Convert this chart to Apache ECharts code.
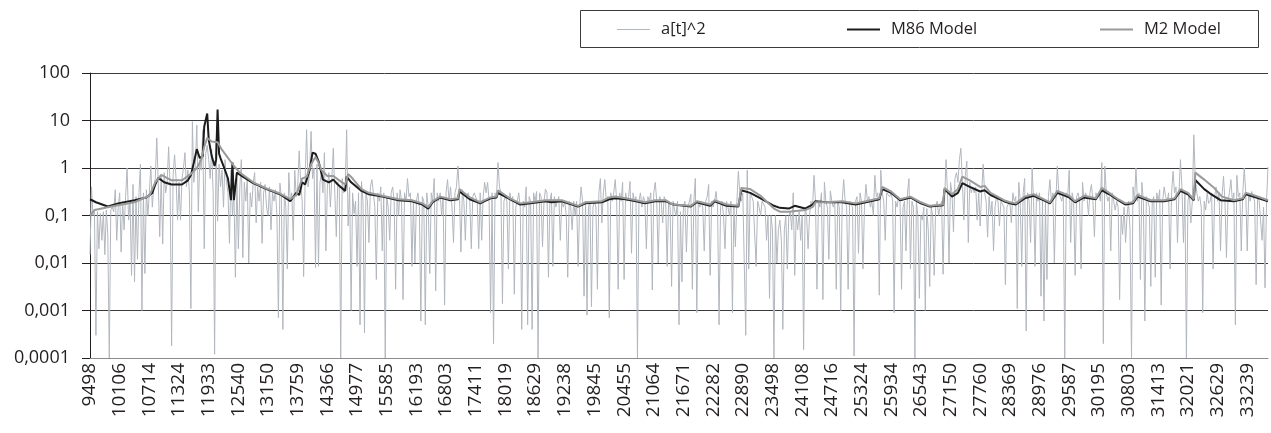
<!DOCTYPE html>
<html><head><meta charset="utf-8">
<script src="https://cdn.jsdelivr.net/npm/echarts@6/dist/echarts.min.js"></script>
<style>html,body{margin:0;padding:0;background:#fff}#c{width:1271px;height:433px}</style>
</head><body><div id="c"></div>
<script>
const tickLabels = ['9498','10106','10714','11324','11933','12540','13150','13759','14366','14977','15585','16193','16803','17411','18019','18629','19238','19845','20455','21064','21671','22282','22890','23498','24108','24716','25324','25934','26543','27150','27760','28369','28976','29587','30195','30803','31413','32021','32629','33239'];
const yTickLabels = ['0,0001','0,001','0,01','0,1','1','10','100'];
const seriesNames = ['a[t]^2','M86 Model','M2 Model'];

// a[t]^2, monthly values (20 per x label)
const aSquared = [
0.015,0.4,0.1,0.12,0.0003,0.12,0.02,0.11,0.03,0.12,0.015,0.13,0.04,0.0001,0.13,0.15,0.12,0.35,0.03,0.15,
0.3,0.017,0.2,0.05,0.25,1.0,0.08,0.2,0.0055,0.45,0.004,0.25,0.012,0.3,1.2,0.001,0.3,0.006,0.35,0.1,
0.3,1.1,0.15,0.4,0.6,4.3,0.5,0.036,0.7,0.025,0.8,0.3,0.5,2.8,0.4,0.00018,0.7,1.9,0.6,0.08,
0.5,0.08,0.6,1.0,2.1,0.4,0.9,0.3,0.0011,9.5,0.5,1.2,8,0.12,1.5,0.9,6.4,0.02,2,3,
1.5,0.6,2.5,0.3,0.00012,4,0.076,1.2,0.4,0.9,0.15,1.5,0.5,0.3,0.026,0.9,0.1,0.3,0.005,0.6,
0.02,0.4,1.5,0.013,0.5,0.2,0.6,0.01,0.3,0.15,0.5,0.8,0.07,0.4,0.2,0.5,0.026,0.3,0.45,0.15,
0.1,0.4,0.05,0.3,0.2,0.35,0.1,0.0007,0.48,0.25,0.0004,0.3,0.15,0.0075,0.8,0.2,0.3,0.03,0.9,0.25,
0.4,2.3,0.5,0.2,0.0052,0.6,6.4,0.4,0.8,5.9,0.6,1.0,0.008,1.2,0.0085,0.5,0.8,0.3,2.1,0.018,
0.4,0.8,0.15,0.6,2.6,0.3,0.036,0.5,0.4,0.0001,0.6,0.3,0.4,6.4,0.06,0.4,0.001,0.3,0.11,0.2,
0.0085,0.3,0.0005,0.52,0.2,0.00034,0.3,0.2,0.027,0.4,0.57,0.3,0.15,0.0045,0.3,0.2,0.4,0.018,0.3,0.0001,
0.25,0.15,0.03,0.3,0.4,0.2,0.0028,0.3,0.1,0.35,0.2,0.0017,0.3,0.2,0.6,0.25,0.3,0.0085,0.2,0.01,
0.2,0.3,0.15,0.0006,0.25,0.2,0.0005,0.3,0.15,0.006,0.3,0.2,0.6,0.0026,0.3,0.2,0.3,0.1,0.25,0.0013,
0.3,0.57,0.2,0.4,0.15,0.027,0.3,0.4,1.1,0.3,0.017,0.35,0.2,0.03,0.25,0.3,0.2,0.02,0.25,0.3,
0.3,0.2,0.02,0.3,0.03,0.25,0.5,0.3,0.5,0.2,0.0009,0.3,0.0002,0.3,0.25,1.3,0.4,0.3,0.0014,0.2,
0.25,0.2,0.0075,0.3,0.2,0.25,0.0022,0.15,0.2,0.3,0.15,0.0004,0.2,0.15,0.4,0.0005,0.25,0.2,0.0004,0.3,
0.2,0.32,0.0001,0.3,0.25,0.022,0.2,0.36,0.3,0.005,0.2,0.3,0.0085,0.25,0.15,0.2,0.25,0.03,0.2,0.15,
0.2,0.1,0.005,0.2,0.15,0.05,0.2,0.1,0.2,0.0085,0.15,0.4,0.2,0.002,0.2,0.0008,0.15,0.2,0.0012,0.15,
0.2,0.15,0.0028,0.3,0.6,0.07,0.3,0.57,0.2,0.25,0.0007,0.3,0.2,0.3,0.57,0.2,0.0028,0.3,0.2,0.5,
0.0045,0.3,0.2,0.25,0.52,0.016,0.3,0.2,0.25,0.0001,0.2,0.3,0.15,0.25,0.2,0.02,0.25,0.2,0.3,0.0027,
0.3,0.5,0.2,0.01,0.25,0.2,0.07,0.25,0.2,0.0085,0.2,0.15,0.0032,0.2,0.13,0.1,0.2,0.0005,0.12,0.004,
0.15,0.2,0.017,0.15,0.2,0.28,0.0028,0.2,0.6,0.0009,0.2,0.15,0.2,0.15,0.018,0.2,0.25,0.45,0.0055,0.2,
0.15,0.2,0.32,0.15,0.0005,0.15,0.2,0.1,0.02,0.2,0.15,0.1,0.2,0.0009,0.15,0.022,0.2,0.85,0.3,0.2,
0.3,0.01,0.0003,0.9,0.0075,0.3,0.25,0.2,0.2,0.0085,0.2,0.15,0.1,0.2,0.2,0.15,0.03,0.1,0.0018,0.1,
0.05,0.0001,0.1,0.01,0.05,0.08,0.03,0.0004,0.05,0.1,0.0075,0.1,0.12,0.05,0.3,0.0055,0.1,0.05,0.12,0.03,
0.1,0.00015,0.15,0.1,0.02,0.1,0.2,0.15,0.7,0.2,0.0028,0.2,0.15,0.3,0.0017,0.5,0.2,0.15,0.012,0.33,
0.2,0.15,0.2,0.0028,0.2,0.15,0.001,0.2,0.57,0.2,0.15,0.0028,0.2,0.2,0.15,0.00011,0.2,0.25,0.016,0.3,
0.2,0.0075,0.15,0.45,0.2,0.25,0.15,0.2,0.1,0.7,0.25,0.3,0.0021,0.9,0.3,0.2,0.03,0.3,0.32,0.25,
0.3,0.2,0.0009,0.2,0.15,0.25,0.2,0.0028,0.15,0.2,0.018,0.3,0.6,0.0075,0.2,0.15,0.0001,0.2,0.1,0.0018,
0.1,0.08,0.15,0.001,0.14,0.05,0.0032,0.15,0.1,0.0055,0.15,0.2,0.1,0.15,0.2,0.0058,0.2,1.5,0.3,0.01,
0.5,0.3,0.045,0.6,0.8,0.5,1.5,2.6,0.5,0.08,0.7,1.4,0.027,0.5,0.3,0.4,0.3,0.4,0.08,0.3,
0.06,0.3,1.2,0.3,0.2,0.035,0.25,0.1,0.2,0.018,0.15,0.25,0.2,0.06,0.2,0.2,0.15,0.0035,0.15,0.16,
0.2,0.07,0.3,0.2,0.25,0.0011,0.5,0.2,0.0085,0.3,0.6,0.00037,0.3,0.2,0.027,1.0,0.2,0.0085,0.3,0.2,
0.3,0.002,0.2,0.0006,0.2,0.0045,0.25,0.57,0.2,0.3,0.01,0.2,1.1,0.3,0.25,0.2,0.3,0.0001,0.3,0.25,
0.9,0.027,0.3,0.2,0.0055,0.25,0.3,0.2,0.0075,0.5,0.2,0.3,0.25,0.1,0.3,0.45,0.2,0.036,0.3,0.25,
0.3,0.2,1.3,0.0002,1.1,0.3,0.2,0.25,0.018,0.3,0.2,0.13,0.2,0.15,0.0017,0.1,0.04,0.15,0.027,0.1,
0.2,0.05,0.0001,0.4,0.2,1.0,0.2,0.3,0.0045,0.5,0.2,0.0006,0.25,0.2,0.15,0.0032,0.2,0.25,0.005,0.3,
0.2,0.35,0.0013,0.2,0.4,0.25,0.2,0.3,0.0075,0.3,0.85,0.3,0.4,0.027,0.3,1.5,0.4,0.027,0.3,0.0001,
0.2,0.3,0.07,0.2,5,0.6,0.3,0.2,0.25,0.15,0.0009,0.2,0.13,0.3,0.18,0.2,0.3,0.0075,0.25,0.4,
0.2,0.3,0.018,0.25,0.67,0.2,0.013,0.2,0.3,0.57,0.2,0.3,0.0005,0.7,0.25,0.3,0.018,0.3,1.0,0.3,
0.018,0.3,0.2,0.32,0.25,0.2,0.0035,0.25,0.21,0.2,0.03,0.15,0.003,0.2,1.05
];

// model values read at turning points: [month index, value]
const m86Model = [[0,0.22],[4,0.19],[12,0.155],[19,0.18],[30,0.21],[38,0.24],[42,0.3],[44,0.45],[46,0.62],[50,0.5],[55,0.45],[62,0.45],[66,0.55],[68,0.7],[70,1.3],[72,2.5],[74,1.6],[76,1.8],[77,7.5],[79,14],[80,4],[82,1.8],[84,1.1],[85,1.5],[86,17],[87,2],[88,1.6],[90,1.1],[93,0.6],[95,0.21],[96,1.3],[97,0.21],[99,0.8],[103,0.66],[110,0.48],[119,0.36],[128,0.28],[135,0.2],[139,0.3],[141,0.27],[143,0.5],[145,0.45],[148,0.9],[150,2.1],[152,2.0],[154,1.4],[157,0.57],[161,0.5],[164,0.57],[167,0.45],[172,0.33],[173,0.66],[176,0.5],[183,0.33],[188,0.28],[197,0.25],[208,0.21],[217,0.2],[224,0.17],[228,0.14],[231,0.19],[236,0.24],[243,0.21],[248,0.22],[249,0.32],[256,0.22],[263,0.18],[266,0.2],[270,0.23],[274,0.24],[275,0.3],[283,0.22],[290,0.17],[297,0.18],[307,0.2],[311,0.19],[318,0.2],[329,0.155],[334,0.18],[345,0.19],[350,0.22],[354,0.23],[361,0.22],[368,0.2],[374,0.18],[381,0.2],[388,0.2],[393,0.17],[405,0.155],[409,0.19],[418,0.16],[421,0.2],[429,0.16],[437,0.155],[439,0.34],[445,0.3],[452,0.23],[461,0.16],[465,0.145],[471,0.14],[475,0.16],[482,0.14],[487,0.17],[489,0.2],[496,0.19],[507,0.19],[516,0.17],[523,0.19],[532,0.22],[534,0.36],[540,0.3],[546,0.21],[553,0.24],[560,0.18],[566,0.155],[575,0.165],[576,0.36],[581,0.25],[585,0.3],[588,0.48],[593,0.4],[600,0.32],[603,0.34],[607,0.27],[616,0.2],[620,0.18],[624,0.17],[630,0.23],[636,0.26],[644,0.2],[647,0.18],[652,0.3],[660,0.24],[664,0.19],[670,0.24],[678,0.22],[682,0.34],[687,0.28],[693,0.21],[698,0.17],[703,0.18],[706,0.25],[715,0.2],[724,0.2],[731,0.22],[735,0.33],[740,0.28],[744,0.21],[745,0.56],[751,0.36],[755,0.29],[762,0.21],[771,0.2],[777,0.22],[779,0.28],[784,0.25],[794,0.2]];

const m2Model = [[0,0.1],[3,0.13],[17,0.16],[30,0.19],[40,0.26],[44,0.5],[48,0.72],[55,0.55],[62,0.55],[68,0.75],[72,1.0],[75,1.5],[77,2.8],[79,4.3],[82,3.6],[86,3.5],[89,2.4],[92,1.8],[97,1.1],[101,0.8],[110,0.5],[119,0.37],[128,0.29],[135,0.22],[139,0.27],[143,0.6],[146,0.65],[149,1.2],[152,1.7],[154,1.3],[156,0.9],[160,0.68],[164,0.68],[168,0.55],[172,0.45],[174,0.75],[177,0.6],[183,0.36],[188,0.3],[197,0.26],[208,0.22],[217,0.21],[224,0.18],[228,0.15],[231,0.2],[236,0.25],[243,0.22],[248,0.23],[249,0.36],[256,0.24],[263,0.19],[266,0.21],[270,0.24],[274,0.25],[275,0.34],[283,0.23],[290,0.18],[297,0.19],[307,0.21],[318,0.21],[329,0.16],[334,0.19],[345,0.2],[350,0.24],[354,0.25],[361,0.23],[368,0.21],[374,0.19],[381,0.21],[388,0.21],[393,0.17],[405,0.16],[409,0.2],[418,0.17],[421,0.21],[429,0.17],[437,0.16],[439,0.38],[445,0.36],[452,0.26],[461,0.14],[465,0.12],[471,0.12],[482,0.13],[487,0.15],[489,0.19],[496,0.19],[507,0.2],[516,0.18],[523,0.2],[532,0.23],[534,0.4],[540,0.32],[546,0.22],[553,0.25],[560,0.19],[566,0.16],[575,0.17],[576,0.38],[581,0.28],[585,0.36],[588,0.66],[593,0.55],[600,0.4],[603,0.42],[607,0.3],[616,0.21],[620,0.19],[624,0.18],[630,0.25],[636,0.28],[644,0.21],[647,0.19],[652,0.33],[660,0.26],[664,0.2],[670,0.26],[678,0.23],[682,0.38],[687,0.3],[693,0.22],[698,0.18],[703,0.19],[706,0.27],[715,0.21],[724,0.21],[731,0.23],[735,0.36],[740,0.3],[744,0.22],[745,0.8],[751,0.57],[757,0.4],[763,0.25],[771,0.21],[777,0.23],[779,0.3],[784,0.27],[794,0.21]];

const categories = aSquared.map((v, i) => String(i));
const FONT = 'Open Sans';
const TXT = '#231f20';

const chart = echarts.init(document.getElementById('c'), null, {renderer: 'canvas'});
const legendBase = {top: 16, itemWidth: 33, itemHeight: 2, icon: 'rect',
  textStyle: {fontFamily: FONT, fontSize: 16.5, color: TXT, padding: [0, 0, 0, 6]}};
chart.setOption({
  animation: false,
  graphic: [{type: 'rect', shape: {x: 580.5, y: 10.5, width: 678, height: 37},
    style: {fill: 'none', stroke: '#3a3a3a', lineWidth: 1}, z: 100}],
  legend: [
    Object.assign({}, legendBase, {data: [seriesNames[0]], left: 612, itemHeight: 1}),
    Object.assign({}, legendBase, {data: [seriesNames[1]], left: 842}),
    Object.assign({}, legendBase, {data: [seriesNames[2]], left: 1095})
  ],
  grid: {left: 90, right: 3, top: 73, bottom: 75},
  xAxis: {
    type: 'category', data: categories, boundaryGap: false,
    axisLine: {lineStyle: {color: '#8c8c8c', width: 1}},
    axisTick: {show: false},
    axisLabel: {interval: 19, rotate: 90, margin: 5, fontFamily: FONT, fontSize: 19, color: TXT,
      formatter: (v, i) => (i % 20 === 0 ? tickLabels[i / 20] : '')},
    splitLine: {show: false}
  },
  yAxis: {
    type: 'log', logBase: 10, min: 0.0001, max: 100,
    axisLine: {show: true, lineStyle: {color: '#231f20', width: 1}},
    axisTick: {show: true, length: 8, lineStyle: {color: '#231f20'}},
    axisLabel: {margin: 20, fontFamily: FONT, fontSize: 18, color: TXT,
      formatter: v => yTickLabels[Math.round(Math.log10(v)) + 4]},
    splitLine: {show: true, lineStyle: {color: '#3a3a3a', width: 1}},
    minorTick: {show: false}
  },
  series: [
    {name: seriesNames[0], type: 'line', data: aSquared, symbol: 'none',
     lineStyle: {color: '#b2b7be', width: 1}, itemStyle: {color: '#b2b7be'}, z: 2},
    {name: seriesNames[1], type: 'line', data: m86Model, symbol: 'none',
     lineStyle: {color: '#1c1c1c', width: 2}, itemStyle: {color: '#1c1c1c'}, z: 3},
    {name: seriesNames[2], type: 'line', data: m2Model, symbol: 'none',
     lineStyle: {color: '#9a9a9a', width: 2}, itemStyle: {color: '#9a9a9a'}, z: 4}
  ]
});
</script></body></html>
